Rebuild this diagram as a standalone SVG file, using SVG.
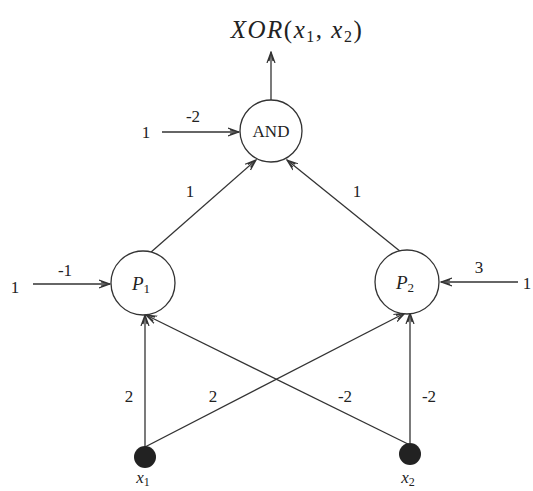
<svg xmlns="http://www.w3.org/2000/svg" width="533" height="491" viewBox="0 0 533 491">
<defs>
<style>
.node{fill:#fff;stroke:#333;stroke-width:1.3}
.edge{stroke:#333;stroke-width:1.3;fill:none;marker-end:url(#arr)}
.lbl{font-family:"Liberation Serif",serif;font-size:17px;fill:#222;text-anchor:middle}
.math{font-family:"Liberation Serif",serif;font-style:italic;fill:#222;text-anchor:middle}
.dot{fill:#222}
</style>
<marker id="arr" viewBox="0 0 12 10" refX="11" refY="5" markerWidth="12" markerHeight="10" markerUnits="userSpaceOnUse" orient="auto">
<path d="M0,1 L11,5 L0,9 M2,3 L11,5 L2,7" fill="none" stroke="#333" stroke-width="1.2"/>
</marker>
</defs>
<rect width="533" height="491" fill="#fff"/>
<g id="connectors">
<line class="edge" x1="271" y1="100" x2="271" y2="52"/>
<line class="edge" x1="162" y1="132" x2="239" y2="132"/>
<line class="edge" x1="33" y1="284" x2="110" y2="284"/>
<line class="edge" x1="518" y1="282" x2="441" y2="282"/>
<line class="edge" x1="150" y1="253" x2="256" y2="160"/>
<line class="edge" x1="401" y1="252" x2="287" y2="160"/>
<line class="edge" x1="145" y1="447" x2="145" y2="315"/>
<line class="edge" x1="145" y1="447" x2="405" y2="313"/>
<line class="edge" x1="410" y1="445" x2="146" y2="315"/>
<line class="edge" x1="410" y1="443" x2="410" y2="313"/>
<text class="lbl" x="146" y="138">1</text>
<text class="lbl" x="193" y="122">-2</text>
<text class="lbl" x="15" y="293">1</text>
<text class="lbl" x="65" y="276">-1</text>
<text class="lbl" x="479" y="273">3</text>
<text class="lbl" x="527" y="289">1</text>
<text class="lbl" x="190" y="197">1</text>
<text class="lbl" x="357" y="197">1</text>
<text class="lbl" x="129" y="402">2</text>
<text class="lbl" x="213" y="402">2</text>
<text class="lbl" x="345" y="402">-2</text>
<text class="lbl" x="429" y="402">-2</text>
</g>
<g id="output">
<text class="math" x="297" y="38" font-size="25" letter-spacing="1.5">XOR<tspan font-style="normal">(</tspan>x<tspan font-size="16" font-style="normal" dy="4">1</tspan><tspan font-style="normal" dy="-4">, </tspan>x<tspan font-size="16" font-style="normal" dy="4">2</tspan><tspan font-style="normal" dy="-4">)</tspan></text>
</g>
<g id="AND">
<circle class="node" cx="271" cy="131" r="31"/>
<text class="lbl" x="271" y="137" font-size="18">AND</text>
</g>
<g id="P1">
<circle class="node" cx="143" cy="283" r="32"/>
<text class="math" x="141" y="290" font-size="19">P<tspan font-size="13" font-style="normal" dy="3">1</tspan></text>
</g>
<g id="P2">
<circle class="node" cx="407" cy="282" r="32"/>
<text class="math" x="405" y="289" font-size="19">P<tspan font-size="13" font-style="normal" dy="3">2</tspan></text>
</g>
<g id="x1">
<circle class="dot" cx="145" cy="457" r="11"/>
<text class="math" x="143" y="483" font-size="17">x<tspan font-size="12" font-style="normal" dy="3">1</tspan></text>
</g>
<g id="x2">
<circle class="dot" cx="410" cy="454" r="11"/>
<text class="math" x="408" y="483" font-size="17">x<tspan font-size="12" font-style="normal" dy="3">2</tspan></text>
</g>
</svg>
